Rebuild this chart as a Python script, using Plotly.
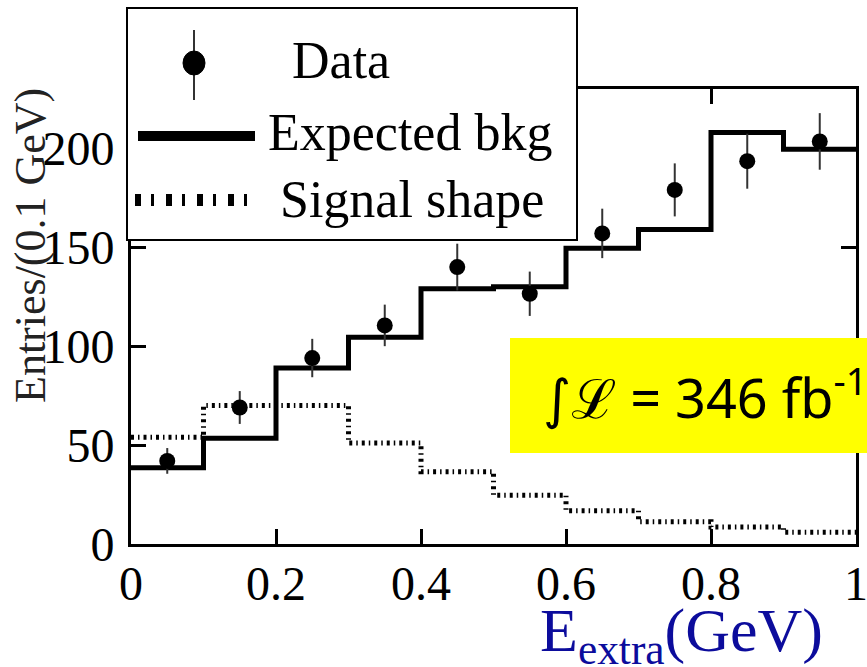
import plotly.graph_objects as go

# ---- data ----
bin_edges = [0.0, 0.1, 0.2, 0.3, 0.4, 0.5, 0.6, 0.7, 0.8, 0.9, 1.0]
bin_centers = [0.05, 0.15, 0.25, 0.35, 0.45, 0.55, 0.65, 0.75, 0.85, 0.95]
data_counts = [42, 69, 94, 110.5, 140, 126.5, 157, 179, 193.5, 203.5]
data_errors = [6.5, 8.3, 9.7, 10.5, 11.8, 11.2, 12.5, 13.4, 13.9, 14.3]
bkg_expected = [38.5, 53.5, 89, 104.5, 129, 130, 149.5, 159, 208, 199.5]
signal_shape = [54, 70, 70, 51, 36.5, 24.7, 16.8, 11.3, 8.6, 6]
x_ticks = [0, 0.2, 0.4, 0.6, 0.8, 1]
x_tick_text = ["0", "0.2", "0.4", "0.6", "0.8", "1"]
y_ticks = [0, 50, 100, 150, 200]
y_tick_text = ["0", "50", "100", "150", "200"]

# ---- layout geometry (pixels) ----
W, H = 867, 667
L, R, T, B = 131, 11, 89, 123
PW, PH = W - L - R, H - T - B


def px(x):
    return (x - L) / PW


def py(y):
    return (H - B - y) / PH


step_x = bin_edges
sig_y = signal_shape + [signal_shape[-1]]
bkg_y = bkg_expected + [bkg_expected[-1]]

fig = go.Figure()
fig.add_trace(go.Scatter(
    x=step_x, y=sig_y, mode="lines", line_shape="hv",
    line=dict(color="black", width=5, dash="3px,4px,1.5px,4px"),
    showlegend=False, hoverinfo="skip"))
fig.add_trace(go.Scatter(
    x=step_x, y=bkg_y, mode="lines", line_shape="hv",
    line=dict(color="black", width=5),
    showlegend=False, hoverinfo="skip"))
fig.add_trace(go.Scatter(
    x=bin_centers, y=data_counts, mode="markers",
    marker=dict(color="black", size=16),
    error_y=dict(type="data", array=data_errors, visible=True,
                 color="#333333", thickness=2, width=0),
    showlegend=False))

serif = "Liberation Serif, Times New Roman, serif"
axis_common = dict(showline=True, linecolor="black", linewidth=3,
                   mirror="ticks", ticks="inside", ticklen=15, tickwidth=3,
                   tickcolor="black", showgrid=False, zeroline=False,
                   automargin=False, ticklabeloverflow="allow",
                   tickfont=dict(family=serif, size=48, color="black"))

fig.update_xaxes(range=[0, 1], tickvals=x_ticks, ticktext=x_tick_text,
                 ticklabelstandoff=-5, **axis_common)
fig.update_yaxes(range=[0, 230], tickvals=y_ticks, ticktext=y_tick_text,
                 ticklabelstandoff=4, **axis_common)

shapes = []
annotations = []

# luminosity box
shapes.append(dict(type="rect", xref="paper", yref="paper",
                   x0=px(510), x1=px(880), y0=py(453), y1=py(338),
                   fillcolor="#ffff00", line=dict(width=0), layer="above"))
annotations.append(dict(xref="paper", yref="paper", x=px(541), y=py(394),
                        xanchor="left", yanchor="middle", showarrow=False,
                        text="∫ℒ = 346 fb<sup>-1</sup>",
                        font=dict(family="Noto Sans, DejaVu Sans, sans-serif",
                                  size=54, color="black")))

# legend box
shapes.append(dict(type="rect", xref="paper", yref="paper",
                   x0=px(127), x1=px(577), y0=py(240), y1=py(8),
                   fillcolor="white", line=dict(color="black", width=2),
                   layer="above"))
# Data symbol
shapes.append(dict(type="line", xref="paper", yref="paper",
                   x0=px(194), x1=px(194), y0=py(30), y1=py(100),
                   line=dict(color="#333333", width=2), layer="above"))
shapes.append(dict(type="circle", xref="paper", yref="paper",
                   x0=px(183), x1=px(205), y0=py(75), y1=py(51),
                   fillcolor="black", line=dict(color="black", width=1),
                   layer="above"))
# bkg symbol
shapes.append(dict(type="line", xref="paper", yref="paper",
                   x0=px(138), x1=px(255), y0=py(136), y1=py(136),
                   line=dict(color="black", width=10), layer="above"))
# signal symbol
shapes.append(dict(type="line", xref="paper", yref="paper",
                   x0=px(135), x1=px(257), y0=py(200), y1=py(200),
                   line=dict(color="black", width=12, dash="6px,10px,3px,12px"),
                   layer="above"))

leg_font = dict(family=serif, size=52, color="black")
annotations.append(dict(xref="paper", yref="paper", x=px(290), y=py(60),
                        xanchor="left", yanchor="middle", showarrow=False,
                        text="Data", font=leg_font))
annotations.append(dict(xref="paper", yref="paper", x=px(266), y=py(132),
                        xanchor="left", yanchor="middle", showarrow=False,
                        text="Expected bkg", font=leg_font))
annotations.append(dict(xref="paper", yref="paper", x=px(278), y=py(199),
                        xanchor="left", yanchor="middle", showarrow=False,
                        text="Signal shape", font=leg_font))

# axis titles
annotations.append(dict(xref="paper", yref="paper", x=px(30), y=py(246),
                        xanchor="center", yanchor="middle", showarrow=False,
                        textangle=-90, text="Entries/(0.1 GeV)",
                        font=dict(family=serif, size=44, color="#222222")))
annotations.append(dict(xref="paper", yref="paper", x=px(538), y=py(634),
                        xanchor="left", yanchor="middle", showarrow=False,
                        text="E<sub>extra</sub>(GeV)",
                        font=dict(family=serif, size=62, color="#0c0c9c")))

fig.update_layout(width=W, height=H, margin=dict(l=L, r=R, t=T, b=B),
                  paper_bgcolor="white", plot_bgcolor="white",
                  shapes=shapes, annotations=annotations, showlegend=False)

fig.write_html("out.html")
